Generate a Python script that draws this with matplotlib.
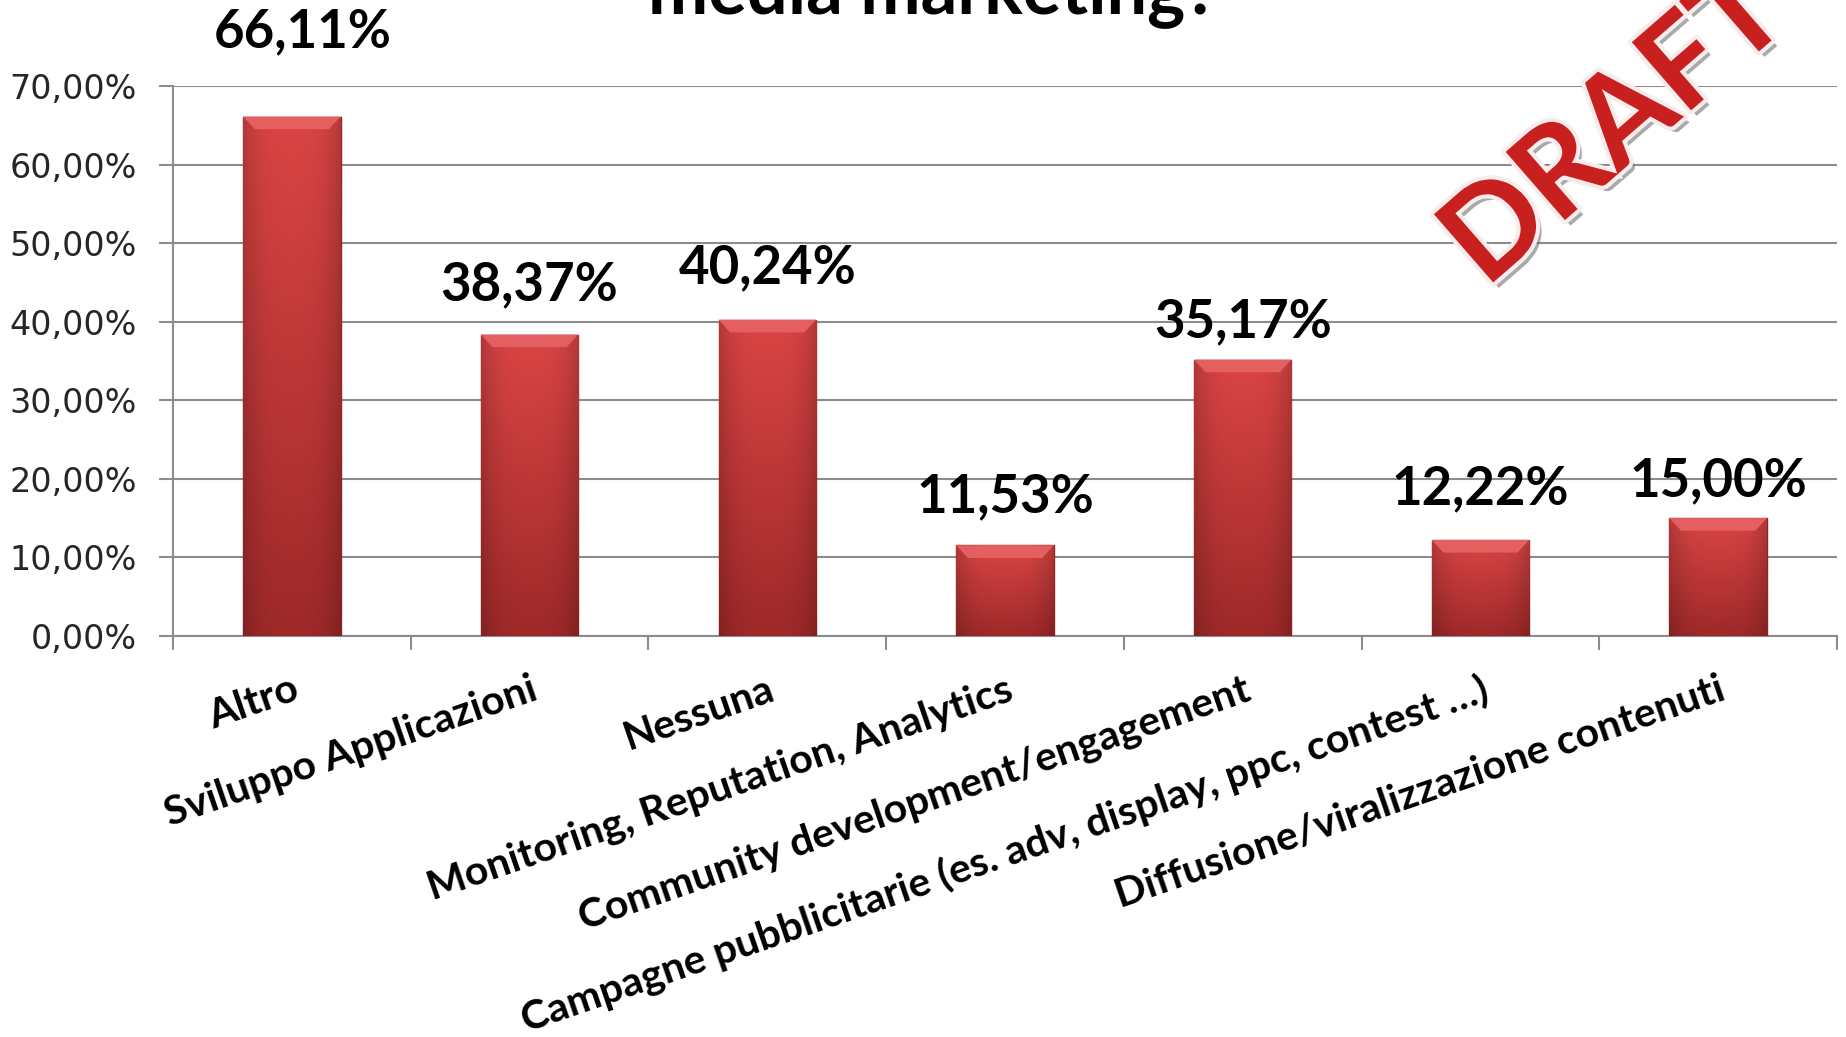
import numpy as np
import matplotlib
matplotlib.use("Agg")
import matplotlib.pyplot as plt
from matplotlib.patches import Polygon
from matplotlib.ticker import FixedLocator, FuncFormatter
import matplotlib.patheffects as pe

# data
categories = [
    "Altro",
    "Sviluppo Applicazioni",
    "Nessuna",
    "Monitoring, Reputation, Analytics",
    "Community development/engagement",
    "Campagne pubblicitarie (es. adv, display, ppc, contest …)",
    "Diffusione/viralizzazione contenuti",
]
values = [66.11, 38.37, 40.24, 11.53, 35.17, 12.22, 15.00]
y_ticks = [0, 10, 20, 30, 40, 50, 60, 70]
title_tail = "media marketing?"

# layout / style
W, H, DPI = 1846, 1037, 100
BAR_W = 0.41
label_gap_pt = [50, 25, 26, 24, 16, 26, 16]   # manual label nudges seen in reference
label_dx_pt = [8, 0, 0, 0, 0, 0, 0]

fig = plt.figure(figsize=(W / DPI, H / DPI), dpi=DPI)
ax = fig.add_axes([173 / W, 1 - 636 / H, (1837 - 173) / W, (636 - 86) / H])

x = np.arange(len(categories))
bars = ax.bar(x, values, width=BAR_W, color="#c43c3c", edgecolor="#8e2424",
              linewidth=1.0, zorder=3)

# gradient fill + bevelled top for each bar
nv, nh = 200, 60
vert = np.linspace(0, 1, nv)[:, None]
horiz = 1 - 0.18 * np.abs(np.linspace(-1, 1, nh))[None, :] ** 3
top_c = np.array([0.86, 0.27, 0.27])
bot_c = np.array([0.62, 0.16, 0.16])
for b in bars:
    x0, w, h = b.get_x(), b.get_width(), b.get_height()
    rgb = (bot_c + (top_c - bot_c) * vert)[:, :, None].transpose(0, 2, 1) * horiz[:, :, None]
    rgb = np.clip(rgb, 0, 1)
    im = ax.imshow(rgb, extent=[x0, x0 + w, 0, h], origin="lower",
                   aspect="auto", zorder=3.2, interpolation="bilinear")
    im.set_clip_path(b)
    bev_h = 1.6
    bev_in = w * 0.12
    ax.add_patch(Polygon([[x0, h], [x0 + w, h], [x0 + w - bev_in, h - bev_h],
                          [x0 + bev_in, h - bev_h]], closed=True,
                         facecolor="#e46060", edgecolor="none", zorder=3.4))

for i, (xi, v) in enumerate(zip(x, values)):
    ax.annotate(f"{v:.2f}%".replace(".", ","), (xi, v),
                xytext=(label_dx_pt[i], label_gap_pt[i]), textcoords="offset points",
                ha="center", va="baseline", fontsize=38, fontweight="bold",
                family="Lato", color="black", zorder=5)

ax.set_xlim(-0.5, len(categories) - 0.5)
ax.set_ylim(0, 70)
ax.yaxis.set_major_locator(FixedLocator(y_ticks))
ax.yaxis.set_major_formatter(FuncFormatter(lambda v, p: f"{v:.2f}%".replace(".", ",")))
ax.grid(axis="y", color="#8c8c8c", linewidth=1.5, zorder=0)
ax.set_axisbelow(True)

for s in ["top", "right"]:
    ax.spines[s].set_visible(False)
for s in ["left", "bottom"]:
    ax.spines[s].set_color("#8c8c8c")
    ax.spines[s].set_linewidth(1.5)

ax.tick_params(axis="y", length=10, width=1.5, color="#8c8c8c", pad=16,
               labelsize=24, labelcolor="#262626")
ax.set_xticks(x)
ax.set_xticks(np.arange(-0.5, len(categories)), minor=True)
ax.tick_params(axis="x", which="major", length=0, pad=25)
ax.tick_params(axis="x", which="minor", length=10, width=1.5, color="#8c8c8c")
ax.set_xticklabels(categories, rotation=19, ha="right", va="top",
                   rotation_mode="anchor", fontsize=29.5, fontweight="bold",
                   family="Lato")

fig.text(933 / W, 1 - 13 / H, title_tail, ha="center", va="baseline",
         fontsize=52, fontweight="bold", family="Lato")

fig.text(1616 / W, 1 - 128 / H, "DRAFT", rotation=41, ha="center", va="center",
         fontsize=90, fontweight="bold", family="Lato", color="#c8201f",
         path_effects=[pe.SimplePatchShadow(offset=(4, -4), shadow_rgbFace="#555555", alpha=0.5),
                       pe.Stroke(linewidth=6, foreground="#f8ecec"),
                       pe.Normal()], zorder=10)

fig.savefig("out.png", dpi=DPI)
